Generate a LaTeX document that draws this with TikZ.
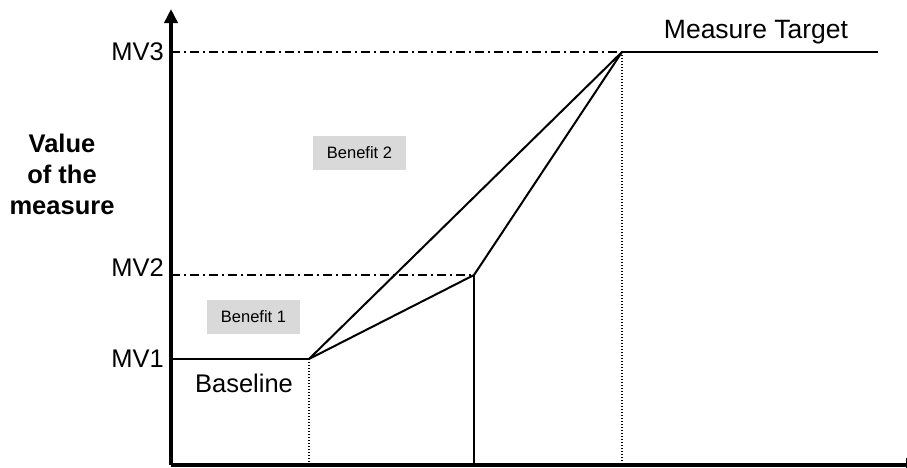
\documentclass[tikz,border=0pt]{standalone}
\usepackage{fontspec}
\setmainfont{Liberation Sans}
\usetikzlibrary{arrows.meta}
\tikzset{%
  axisTip/.tip={Triangle[width=13pt,length=14pt]},
  axis/.style={line width=4.5pt},
  guide/.style={line width=1.4pt, dash pattern=on 9pt off 4pt on 2pt off 4pt},
  drop/.style={line width=1.4pt, dash pattern=on 1.4pt off 1.6pt},
  path/.style={line width=2pt},
  benefit/.style={fill=black!15, minimum width=93pt, minimum height=34pt, font=\fontsize{16.5}{19}\selectfont},
  lab/.style={font=\fontsize{25.5}{30}\selectfont}
}

\begin{document}
\begin{tikzpicture}[x=1pt,y=-1pt]
\useasboundingbox (0,0) rectangle (907,467);
% points of the graph
\coordinate (O) at (171,465);
\coordinate (ytop) at (171,9);
\coordinate (xend) at (920,465);
\coordinate (A) at (309,359);
\coordinate (B) at (474,275);
\coordinate (C) at (622,52);
\coordinate (T) at (878,52);
\coordinate (base) at (171,359);
\coordinate (mv2) at (171,275);
\coordinate (mv3) at (171,52);
% guides
\draw[guide] (mv3) -- (C);
\draw[guide] (mv2) -- (B);
\draw[drop] (A) -- (A |- O);
\draw[drop] (C) -- (C |- O);
% benefit paths
\draw[path] (base) -- (A);
\draw[path] (A) -- (B) -- (C);
\draw[path] (A) -- (C);
\draw[path] (C) -- (T);
\draw[path] (B) -- (B |- O);
% axes
\draw[axis, -axisTip] (O) -- (ytop);
\draw[axis, -axisTip] (O) -- (xend);
% labels
\node[lab, anchor=east, inner sep=0pt] (lmv3) at (164,52) {MV3};
\node[lab, anchor=east, inner sep=0pt] (lmv2) at (164,268) {MV2};
\node[lab, anchor=east, inner sep=0pt] (lmv1) at (164,359) {MV1};
\node[lab] (lbase) at (244,383) {Baseline};
\node[font=\fontsize{26.5}{31}\selectfont] (ltarget) at (756,32) {Measure Target};
\node[font=\bfseries\fontsize{25.5}{31}\selectfont, align=center] (lvalue) at (62,174) {Value\\of the\\measure};
\node[benefit] (ben2) at (359.5,153) {Benefit 2};
\node[benefit] (ben1) at (253.5,317) {Benefit 1};
\end{tikzpicture}
\end{document}
